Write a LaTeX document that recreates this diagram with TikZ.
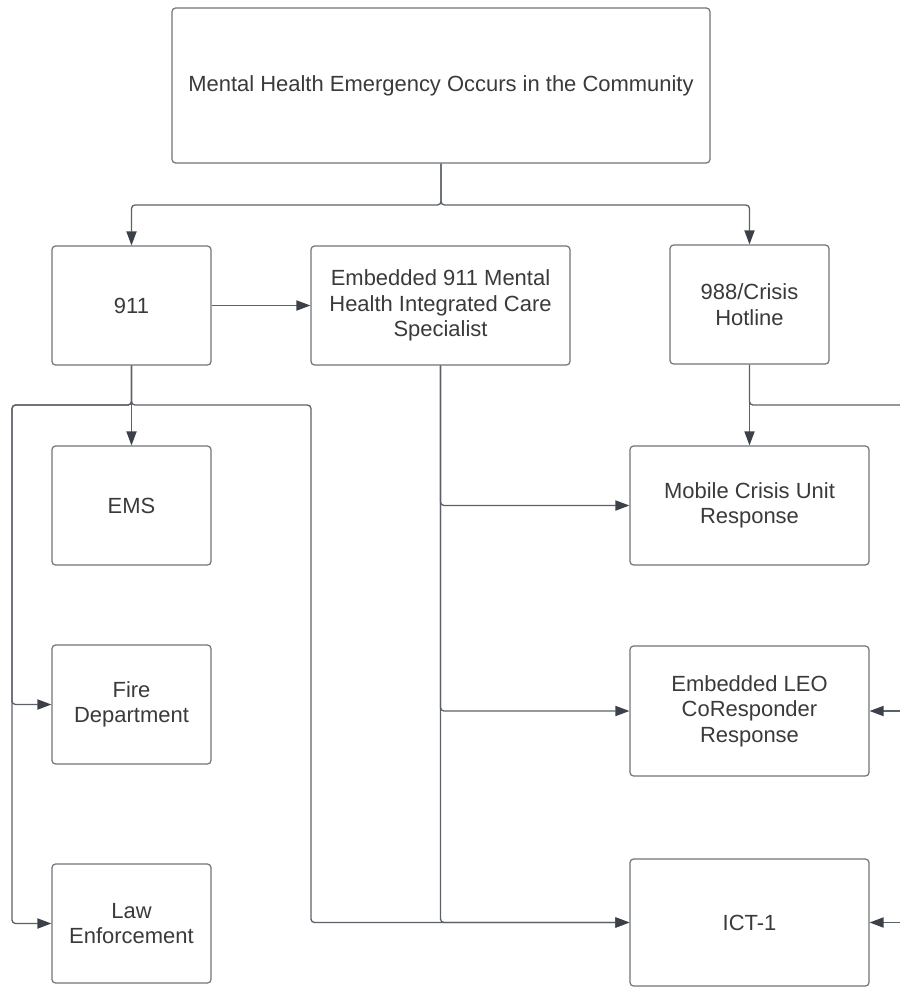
\documentclass[tikz,border=0pt]{standalone}
\usepackage{fontspec}
\setmainfont{Liberation Sans}
\usetikzlibrary{arrows.meta}
\definecolor{boxline}{RGB}{112,116,122}
\definecolor{linkline}{RGB}{92,97,104}
\definecolor{tipfill}{RGB}{60,65,73}
\definecolor{txt}{RGB}{58,58,58}

\begin{document}
\begin{tikzpicture}[x=0.02cm,y=-0.02cm,
	box/.style={draw=boxline, line width=0.7pt, rounded corners=2pt, align=center, text=txt, inner sep=0pt, font=\fontsize{12.5}{14.5}\selectfont},
	small/.style={minimum width=3.18cm, minimum height=2.38cm},
	wide/.style={minimum width=4.78cm, minimum height=2.38cm},
	link/.style={draw=linkline, line width=0.75pt, rounded corners=2pt, -{Triangle[length=8pt,width=5.8pt,color=tipfill]}},
	bus/.style={draw=linkline, line width=0.75pt, rounded corners=2pt}]
	%%%%% START %%%%%
	\useasboundingbox (0,0) rectangle (900,988);
	
	\node[box, minimum width=10.76cm, minimum height=3.1cm] (event) at (441,85.5) {Mental Health Emergency Occurs in the Community};
	
	\node[box, small] (call911) at (131.5,305.5) {911};
	\node[box, minimum width=5.18cm, minimum height=2.38cm] (emb) at (440.5,305.5) {Embedded 911 Mental\\Health Integrated Care\\Specialist};
	\node[box, small] (hotline) at (749.5,304.5) {988/Crisis\\Hotline};
	
	\node[box, small] (ems) at (131.5,505.5) {EMS};
	\node[box, small] (fire) at (131.5,704.5) {Fire\\Department};
	\node[box, small] (law) at (131.5,923.5) {Law\\Enforcement};
	
	\node[box, wide] (mobile) at (749.5,505.5) {Mobile Crisis Unit\\Response};
	\node[box, wide, minimum height=2.6cm] (leo) at (749.5,711) {Embedded LEO\\CoResponder\\Response};
	\node[box, wide, minimum height=2.54cm] (ict) at (749.5,922.5) {ICT-1};
	
	\coordinate (split) at (441,205);
	\coordinate (lbus) at (12,405);
	\coordinate (rbus) at (311,405);
	\coordinate (hbus) at (900,405);
	\coordinate (inleo) at (900,711);
	\coordinate (inict) at (900,922.5);
	
	\draw[link] (event.south) -- (split) -| (call911.north);
	\draw[link] (event.south) -- (split) -| (hotline.north);
	
	\draw[link] (call911.east) -- (emb.west);
	\draw[link] (call911.south) -- (ems.north);
	\draw[link] (call911.south) |- (lbus) |- (fire.west);
	\draw[link] (call911.south) |- (lbus) |- (law.west);
	\draw[link] (call911.south) |- (rbus) |- (ict.west);
	
	\draw[link] (emb.south) |- (mobile.west);
	\draw[link] (emb.south) |- (leo.west);
	\draw[link] (emb.south) |- (ict.west);
	
	\draw[link] (hotline.south) -- (mobile.north);
	\draw[bus] (hotline.south) |- (hbus);
	\draw[link] (inleo) -- (leo.east);
	\draw[link] (inict) -- (ict.east);
	%%%%% END %%%%%
\end{tikzpicture}
\end{document}
